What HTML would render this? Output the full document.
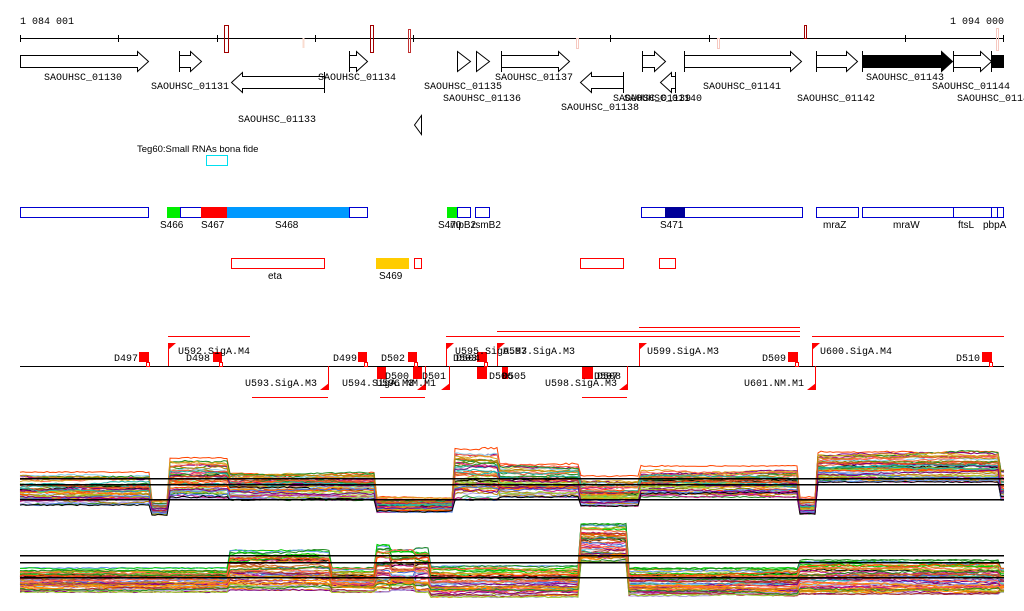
<!DOCTYPE html>
<html><head><meta charset="utf-8"><style>
html,body{margin:0;padding:0;background:#fff;}
svg{display:block}
text{font-family:"Liberation Mono",monospace;font-size:10px;fill:#000}
.s{font-family:"Liberation Sans",sans-serif;font-size:10px}
</style></head><body>
<svg id="sv" width="1024" height="611" viewBox="0 0 1024 611" xmlns="http://www.w3.org/2000/svg">
<text x="20" y="24">1 084 001</text>
<text x="1004" y="24" text-anchor="end">1 094 000</text>
<line x1="20" y1="38.5" x2="1004" y2="38.5" stroke="#000"/>
<g stroke="#000">
<line x1="20.5" y1="35" x2="20.5" y2="42"/><line x1="118.5" y1="35" x2="118.5" y2="42"/><line x1="217.5" y1="35" x2="217.5" y2="42"/><line x1="315.5" y1="35" x2="315.5" y2="42"/><line x1="413.5" y1="35" x2="413.5" y2="42"/><line x1="610.5" y1="35" x2="610.5" y2="42"/><line x1="709.5" y1="35" x2="709.5" y2="42"/><line x1="905.5" y1="35" x2="905.5" y2="42"/><line x1="1003.5" y1="35" x2="1003.5" y2="42"/>
</g>
<g fill="none">
<rect x="224.5" y="25.5" width="4" height="27" stroke="#a00000"/>
<rect x="370.5" y="25.5" width="3" height="27" stroke="#a00000"/>
<rect x="408.5" y="29.5" width="2" height="23" stroke="#c03030"/>
<rect x="302.5" y="38" width="2" height="10" fill="#fadcd0"/>
<rect x="576.5" y="38.5" width="2" height="10" stroke="#f6c8c0"/>
<rect x="717.5" y="38.5" width="2" height="10" stroke="#f6c8c0"/>
<rect x="804.5" y="25.5" width="2" height="13" stroke="#a00000"/>
<rect x="996.5" y="28.5" width="2" height="22" stroke="#f6c8c0"/>
</g>
<g stroke="#000" fill="#fff">
<path d="M20.5 55.5H137.5V51.5L148.5 61.5L137.5 71.5V67.5H20.5Z"/>
<path d="M179.5 55.5H190.5V51.5L201.5 61.5L190.5 71.5V67.5H179.5Z"/><line x1="179.5" y1="51" x2="179.5" y2="72"/>
<path d="M324.5 76.5H242.5V72.5L231.5 82.5L242.5 92.5V88.5H324.5Z"/><line x1="324.5" y1="72" x2="324.5" y2="93"/>
<path d="M349.5 55.5H356.5V51.5L367.5 61.5L356.5 71.5V67.5H349.5Z"/><line x1="349.5" y1="51" x2="349.5" y2="72"/>
<path d="M457.5 51.5L470.5 61.5L457.5 71.5Z"/><path d="M476.5 51.5L489.5 61.5L476.5 71.5Z"/>
<path d="M501.5 55.5H558.5V51.5L569.5 61.5L558.5 71.5V67.5H501.5Z"/><line x1="501.5" y1="51" x2="501.5" y2="72"/>
<path d="M623.5 76.5H591.5V72.5L580.5 82.5L591.5 92.5V88.5H623.5Z"/><line x1="623.5" y1="72" x2="623.5" y2="93"/>
<path d="M642.5 55.5H654.5V51.5L665.5 61.5L654.5 71.5V67.5H642.5Z"/><line x1="642.5" y1="51" x2="642.5" y2="72"/>
<path d="M675.5 76.5H671.5V72.5L660.5 82.5L671.5 92.5V88.5H675.5Z"/><line x1="675.5" y1="72" x2="675.5" y2="93"/>
<path d="M684.5 55.5H790.5V51.5L801.5 61.5L790.5 71.5V67.5H684.5Z"/><line x1="684.5" y1="51" x2="684.5" y2="72"/>
<path d="M816.5 55.5H846.5V51.5L857.5 61.5L846.5 71.5V67.5H816.5Z"/><line x1="816.5" y1="51" x2="816.5" y2="72"/>
<path d="M862.5 55.5H941.5V51.5L952.5 61.5L941.5 71.5V67.5H862.5Z" fill="#000"/><line x1="862.5" y1="51" x2="862.5" y2="72"/>
<path d="M953.5 55.5H980.5V51.5L991.5 61.5L980.5 71.5V67.5H953.5Z"/><line x1="953.5" y1="51" x2="953.5" y2="72"/>
<rect x="991.5" y="55.5" width="12" height="12" fill="#000"/><line x1="991.5" y1="51" x2="991.5" y2="72"/>
<path d="M421.5 115.5L414.5 125L421.5 134.5Z"/>
</g>
<text x="44" y="80">SAOUHSC_01130</text>
<text x="151" y="89">SAOUHSC_01131</text>
<text x="238" y="122">SAOUHSC_01133</text>
<text x="318" y="80">SAOUHSC_01134</text>
<text x="424" y="89">SAOUHSC_01135</text>
<text x="443" y="101">SAOUHSC_01136</text>
<text x="495" y="80">SAOUHSC_01137</text>
<text x="561" y="110">SAOUHSC_01138</text>
<text x="613" y="101">SAOUHSC_01139</text>
<text x="624" y="101">SAOUHSC_01140</text>
<text x="703" y="89">SAOUHSC_01141</text>
<text x="797" y="101">SAOUHSC_01142</text>
<text x="866" y="80">SAOUHSC_01143</text>
<text x="932" y="89">SAOUHSC_01144</text>
<text x="957" y="101">SAOUHSC_01145</text>
<text class="s" x="137" y="152" style="font-size:9.5px">Teg60:Small RNAs bona fide</text>
<rect x="206.5" y="155.5" width="21" height="10" fill="none" stroke="#00e0f0"/>
<g stroke="#0000d0" fill="#fff">
<rect x="20.5" y="207.5" width="128" height="10"/>
<rect x="180.5" y="207.5" width="21" height="10"/>
<rect x="349.5" y="207.5" width="18" height="10"/>
<rect x="457.5" y="207.5" width="13" height="10"/>
<rect x="475.5" y="207.5" width="14" height="10"/>
<rect x="641.5" y="207.5" width="161" height="10"/>
<rect x="816.5" y="207.5" width="42" height="10"/>
<rect x="862.5" y="207.5" width="91" height="10"/>
<rect x="953.5" y="207.5" width="38" height="10"/>
<rect x="991.5" y="207.5" width="6" height="10"/>
<rect x="997.5" y="207.5" width="6" height="10"/>
</g>
<rect x="167" y="207" width="13" height="11" fill="#00ee00"/>
<rect x="201" y="207" width="26" height="11" fill="#ff0000"/>
<rect x="227" y="207" width="122" height="11" fill="#0099ff"/>
<rect x="447" y="207" width="10" height="11" fill="#00ee00"/>
<rect x="665" y="207" width="20" height="11" fill="#000099"/>
<g class="s">
<text class="s" x="160" y="228">S466</text><text class="s" x="201" y="228">S467</text><text class="s" x="275" y="228">S468</text>
<text class="s" x="438" y="228">S470</text><text class="s" x="450" y="228">mpB2</text><text class="s" x="472" y="228">rsmB2</text>
<text class="s" x="660" y="228">S471</text><text class="s" x="823" y="228">mraZ</text><text class="s" x="893" y="228">mraW</text>
<text class="s" x="958" y="228">ftsL</text><text class="s" x="983" y="228">pbpA</text>
</g>
<g stroke="#ff0000" fill="#fff">
<rect x="231.5" y="258.5" width="93" height="10"/>
<rect x="414.5" y="258.5" width="7" height="10"/>
<rect x="580.5" y="258.5" width="43" height="10"/>
<rect x="659.5" y="258.5" width="16" height="10"/>
</g>
<rect x="376" y="258" width="33" height="11" fill="#ffcc00"/>
<text class="s" x="268" y="279">eta</text><text class="s" x="379" y="279">S469</text>
<g fill="#ff0000">
<rect x="168" y="336" width="82" height="1"/>
<rect x="446" y="336" width="354" height="1"/>
<rect x="812" y="336" width="192" height="1"/>
<rect x="497" y="331" width="303" height="1"/>
<rect x="639" y="327" width="161" height="1"/>
<rect x="252" y="397" width="76" height="1"/>
<rect x="380" y="397" width="45" height="1"/>
<rect x="582" y="397" width="45" height="1"/>
</g>
<rect x="20" y="366" width="984" height="1" fill="#000"/>
<g fill="#ff0000" id="flags"></g>
<g fill="#ff0000" id="boxes"></g>
<text x="114" y="361">D497</text><text x="178" y="354">U592.SigA.M4</text><text x="186" y="361">D498</text>
<text x="245" y="386">U593.SigA.M3</text><text x="333" y="361">D499</text><text x="381" y="361">D502</text>
<text x="342" y="386">U594.SigA.M3</text><text x="376" y="386">U596.NM.M1</text><text x="385" y="379">D500</text><text x="422" y="379">D501</text>
<text x="455" y="354">U595.SigA.M3</text><text x="503" y="354">U597.SigA.M3</text><text x="453" y="361">D503</text><text x="456" y="361">D504</text>
<text x="489" y="379">D506</text><text x="502" y="379">D505</text><text x="545" y="386">U598.SigA.M3</text><text x="594" y="379">D507</text><text x="597" y="379">D508</text>
<text x="647" y="354">U599.SigA.M3</text><text x="762" y="361">D509</text><text x="820" y="354">U600.SigA.M4</text><text x="744" y="386">U601.NM.M1</text><text x="956" y="361">D510</text>
<g id="plots" fill="none" stroke-width="1"></g>
<g fill="#000">
<rect x="20" y="478" width="984" height="1.5"/><rect x="20" y="484" width="984" height="1.5"/><rect x="20" y="499" width="984" height="1.5"/>
<rect x="20" y="555" width="984" height="1.5"/><rect x="20" y="562" width="984" height="1.5"/><rect x="20" y="577" width="984" height="1.5"/>
</g>
</svg>
<script>
var NS="http://www.w3.org/2000/svg";
function el(p,t,a){var e=document.createElementNS(NS,t);for(var k in a)e.setAttribute(k,a[k]);p.appendChild(e);return e;}
var F=document.getElementById('flags'),B=document.getElementById('boxes');
[168,446,497,639,812].forEach(function(x){el(F,'rect',{x:x,y:343,width:1,height:23});el(F,'path',{d:'M'+x+' 343h8l-8 7z'});});
[328,449,627,815,425].forEach(function(x){el(F,'rect',{x:x,y:366,width:1,height:24});el(F,'path',{d:'M'+(x+1)+' 390h-9l9-7z'});});
[[139,149],[213,222],[358,367],[408,417],[477,487],[788,798],[982,992]].forEach(function(b){el(B,'rect',{x:b[0],y:352,width:b[1]-b[0],height:10});el(F,'rect',{x:b[1]-2.5,y:362.5,width:3,height:4,fill:'#fff',stroke:'#ff0000'});});
[[377,386],[413,422],[477,487],[502,508],[582,593]].forEach(function(b){el(B,'rect',{x:b[0],y:367,width:b[1]-b[0],height:12});});
var seed=7;function r(){seed=(seed*16807)%2147483647;return seed/2147483647;}
var cols=["#e05020","#ff8c00","#9acd32","#00cc00","#800080","#c71585","#808000","#6495ed","#87ceeb","#b0a0e0","#d2691e","#a52a2a","#ff6347","#228b22","#daa520","#4169e1","#000","#b8860b","#ff4500","#20b2aa"];
var P=document.getElementById('plots');
function plot(segs,n){
 for(var i=0;i<n;i++){var q=Math.pow(r(),0.8),d="",c=cols[Math.floor(r()*cols.length)];
  var ph=0,pj=-1,off=0;
  for(var x=20;x<=1004;x+=3){
   var j0=0;for(var j=0;j<segs.length;j++)if(x>=segs[j][0])j0=j;
   var s=segs[j0];
   if(j0!=pj){off=(r()-.5)*0.25;pj=j0;}
   ph+= (r()-.5)*0.04; if(ph>.1)ph=.1;if(ph<-.1)ph=-.1;
   var t=Math.min(1,Math.max(0,q+off+ph));
   var y=s[1]+(s[2]-s[1])*t+(r()-.5)*1.2;
   d+=(x==20?"M":"L")+x+" "+y.toFixed(1);
  }
  el(P,'path',{d:d,stroke:c});
 }
}
plot([[20,472,505],[150,500,515],[170,458,498],[228,470,500],[375,497,512],[455,445,500],[500,462,497],[580,476,506],[640,466,497],[800,497,514],[816,450,482],[1000,470,500]],50);
plot([[20,568,592],[230,550,590],[330,568,592],[375,545,592],[390,550,590],[415,548,592],[430,566,597],[580,524,562],[627,568,596],[800,560,594],[1000,568,592]],50);
</script>
</body></html>
